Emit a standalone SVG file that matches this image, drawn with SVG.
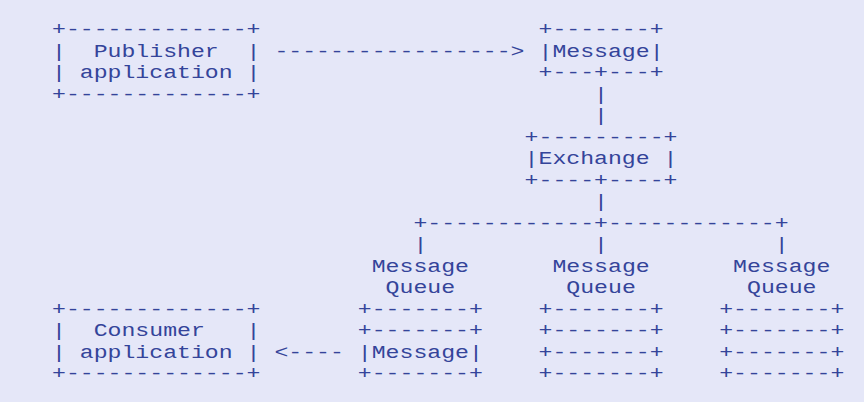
<svg xmlns="http://www.w3.org/2000/svg" width="864" height="402" viewBox="0 0 864 402" xml:space="preserve">
<style>
text{font-family:"Liberation Mono","Courier New",monospace;font-size:18.5px;fill:#34449a;white-space:pre}
</style>
<rect width="864" height="402" fill="#e5e7f8"/>
<g transform="scale(1.2523 1)">
<g id="publisher">
<text x="41.52" y="35.2">+-------------+</text>
<text x="41.52" y="56.7">|  Publisher  |</text>
<text x="41.52" y="78.2">| application |</text>
<text x="41.52" y="99.7">+-------------+</text>
</g>
<g id="message">
<text x="430.02" y="35.2">+-------+</text>
<text x="430.02" y="56.7">|Message|</text>
<text x="430.02" y="78.2">+---+---+</text>
</g>
<g id="exchange">
<text x="418.92" y="142.7">+---------+</text>
<text x="418.92" y="164.2">|Exchange |</text>
<text x="418.92" y="185.7">+----+----+</text>
</g>
<g id="queue1">
<text x="296.82" y="271.7">Message</text>
<text x="307.92" y="293.2">Queue</text>
<text x="285.72" y="314.7">+-------+</text>
<text x="285.72" y="336.2">+-------+</text>
<text x="285.72" y="357.7">|Message|</text>
<text x="285.72" y="379.2">+-------+</text>
</g>
<g id="queue2">
<text x="441.12" y="271.7">Message</text>
<text x="452.22" y="293.2">Queue</text>
<text x="430.02" y="314.7">+-------+</text>
<text x="430.02" y="336.2">+-------+</text>
<text x="430.02" y="357.7">+-------+</text>
<text x="430.02" y="379.2">+-------+</text>
</g>
<g id="queue3">
<text x="585.42" y="271.7">Message</text>
<text x="596.52" y="293.2">Queue</text>
<text x="574.32" y="314.7">+-------+</text>
<text x="574.32" y="336.2">+-------+</text>
<text x="574.32" y="357.7">+-------+</text>
<text x="574.32" y="379.2">+-------+</text>
</g>
<g id="consumer">
<text x="41.52" y="314.7">+-------------+</text>
<text x="41.52" y="336.2">|  Consumer   |</text>
<text x="41.52" y="357.7">| application |</text>
<text x="41.52" y="379.2">+-------------+</text>
</g>
<g id="connectors">
<text x="219.12" y="56.7">-----------------&gt;</text>
<text x="474.42" y="99.7">|</text>
<text x="474.42" y="121.2">|</text>
<text x="474.42" y="207.2">|</text>
<text x="330.12" y="228.7">+------------+------------+</text>
<text x="330.12" y="250.2">|</text>
<text x="474.42" y="250.2">|</text>
<text x="618.72" y="250.2">|</text>
<text x="219.12" y="357.7">&lt;----</text>
</g>
</g>
</svg>
